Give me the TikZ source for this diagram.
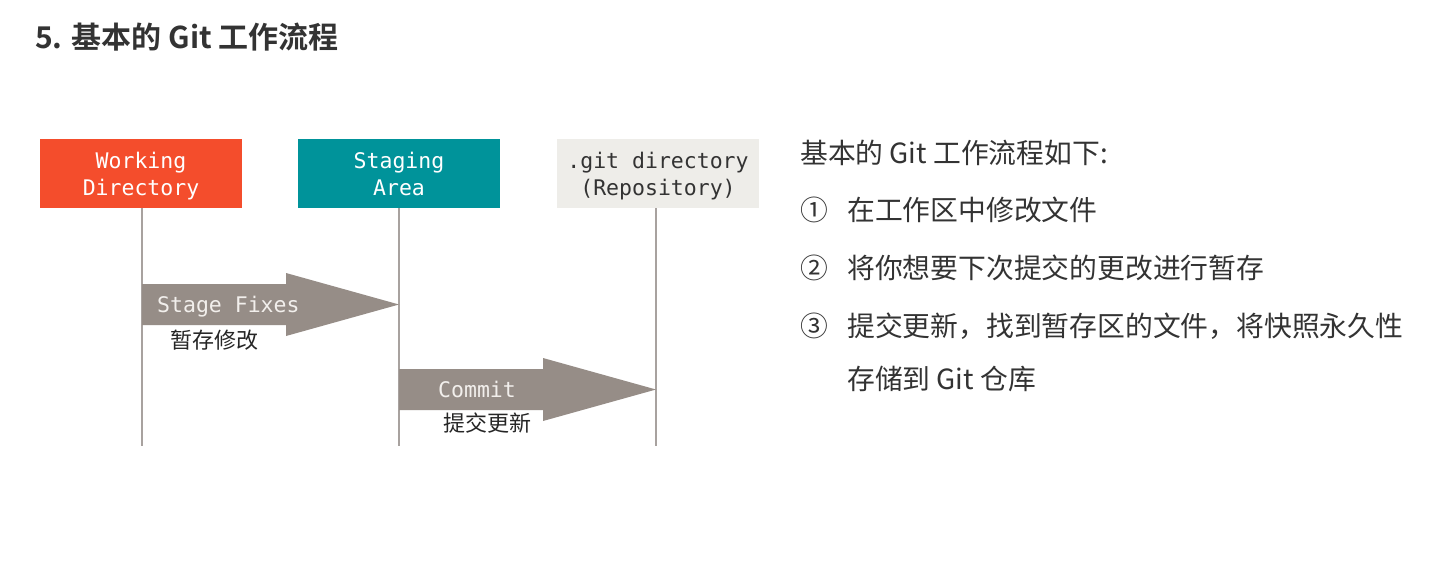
\documentclass[tikz,border=0pt]{standalone}
\usepackage{fontspec}
\newfontfamily\cjk{Noto Sans CJK SC}[BoldFont={Noto Sans CJK SC Bold}]
\newfontfamily\mono{DejaVu Sans Mono}
\newcommand\boxstrut{\rule[-4.5pt]{0pt}{26pt}}
\definecolor{wdred}{HTML}{F44D2C}
\definecolor{sateal}{HTML}{00939A}
\definecolor{repogray}{HTML}{EEEDE9}
\definecolor{arrowgray}{HTML}{968D87}
\definecolor{linegray}{HTML}{A8A29F}
\definecolor{txt}{HTML}{333333}
\definecolor{arrtxt}{HTML}{F2EFEC}
\begin{document}
\begin{tikzpicture}[x=1pt,y=-1pt,
  areabox/.style={rectangle, minimum width=202pt, minimum height=69pt, inner sep=0pt,
    align=center, font=\mono\fontsize{21.5}{26}\selectfont},
  lifeline/.style={draw=linegray, line width=1.6pt},
  fatarrow/.style={fill=arrowgray},
  arrlabel/.style={anchor=base west, inner sep=0pt, text=arrtxt, font=\mono\fontsize{21.5}{26}\selectfont},
  cnlabel/.style={anchor=base, inner sep=0pt, text=black!85, font=\cjk\fontsize{22}{26}\selectfont},
  bodytext/.style={anchor=base west, inner sep=0pt, text=txt, font=\cjk\fontsize{27.8}{32}\selectfont}]
\useasboundingbox[fill=white] (0,0) rectangle (1448,579);

% title
\node[anchor=base west, inner sep=0pt, text=txt, font=\cjk\bfseries\fontsize{30}{34}\selectfont] (title) at (35,48) {5. 基本的 Git 工作流程};

% area boxes
\node[areabox, fill=wdred, text=white] (wd) at (141,173.5) {\boxstrut Working\\\boxstrut Directory};
\node[areabox, fill=sateal, text=white] (sa) at (399,173.5) {\boxstrut Staging\\\boxstrut Area};
\node[areabox, fill=repogray, text=txt] (repo) at (658,173.5) {\boxstrut .git directory\\\boxstrut (Repository)};

% life lines
\coordinate (wdb) at (142,446);
\coordinate (sab) at (399,446);
\coordinate (repob) at (656,446);
\draw[lifeline] (wd.south -| wdb) -- (wdb);
\draw[lifeline] (sa.south -| sab) -- (sab);
\draw[lifeline] (repo.south -| repob) -- (repob);

% Stage Fixes arrow
\coordinate (t1) at (399,304.5);
\fill[fatarrow] (142,284) -- (286,284) -- (286,273) -- (t1) -- (286,336) -- (286,325) -- (142,325) -- cycle;
\node[arrlabel] (sf) at (157,312.5) {Stage Fixes};
\node[cnlabel] (sfcn) at (214,348) {暂存修改};

% Commit arrow
\coordinate (t2) at (656,389.5);
\fill[fatarrow] (399,369) -- (543,369) -- (543,358) -- (t2) -- (543,421) -- (543,410) -- (399,410) -- cycle;
\node[arrlabel] (cm) at (438,397) {Commit};
\node[cnlabel] (cmcn) at (487,431) {提交更新};

% right text
\node[bodytext] (intro) at (800,163.5) {基本的 Git 工作流程如下:};
\node[bodytext] (n1) at (800,220.5) {①};
\node[bodytext] (s1) at (847,220.5) {在工作区中修改文件};
\node[bodytext] (n2) at (800,278.5) {②};
\node[bodytext] (s2) at (847,278.5) {将你想要下次提交的更改进行暂存};
\node[bodytext] (n3) at (800,336.5) {③};
\node[bodytext] (s3) at (847,336.5) {提交更新，找到暂存区的文件，将快照永久性};
\node[bodytext] (s3b) at (847,389.5) {存储到 Git 仓库};
\end{tikzpicture}
\end{document}
